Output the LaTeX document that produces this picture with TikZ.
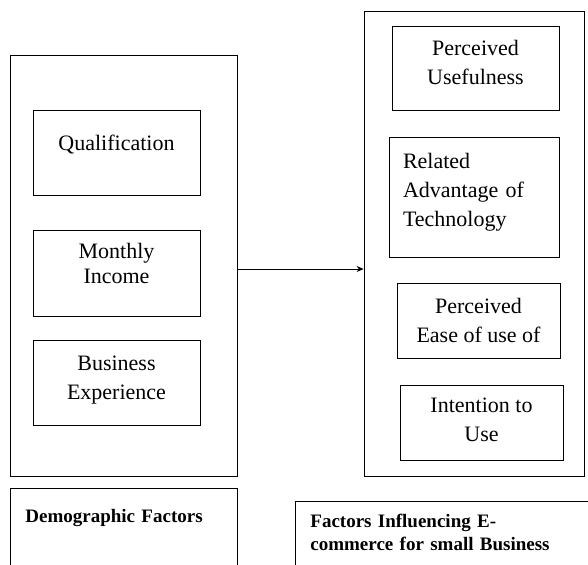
\documentclass[tikz,border=0pt]{standalone}
\usepackage{fontspec}
\setmainfont{Liberation Serif}
\usetikzlibrary{arrows.meta}
\begin{document}
\begin{tikzpicture}[x=1pt, y=-1pt,
    panel/.style={draw, line width=0.8pt, inner sep=0pt},
    factor/.style={panel, align=center, font=\fontsize{22}{29}\selectfont},
    caption/.style={panel, anchor=north west, align=left, inner xsep=15pt,
        text depth=90pt, font=\bfseries\fontsize{19}{23}\selectfont}]
\useasboundingbox (0,0) rectangle (588,564);
\clip (0,0) rectangle (588,564);

% Demographic factors (left panel)
\node[panel, minimum width=227pt, minimum height=421pt] (demo) at (123.5,265.5) {};
\node[factor, minimum width=167pt, minimum height=85pt, text depth=20pt] (qual) at (116.5,152.5) {Qualification};
\node[factor, minimum width=167pt, minimum height=86pt, text depth=20pt, font=\fontsize{22}{25}\selectfont]
    (income) at (116.5,273) {Monthly\\Income};
\node[factor, minimum width=167pt, minimum height=85pt, text depth=9pt] (exper) at (116.5,382.5) {Business\\Experience};

% Factors influencing e-commerce (right panel)
\node[panel, minimum width=220pt, minimum height=465pt] (infl) at (474,243.5) {};
\node[factor, minimum width=167pt, minimum height=84pt, text depth=12pt] (useful) at (475.5,68) {Perceived\\Usefulness};
\node[factor, minimum width=170pt, minimum height=120pt, align=left, text width=142pt, text depth=73pt]
    (advant) at (474,197) {Related\\Advantage of\\Technology};
\node[factor, minimum width=163pt, minimum height=75pt] (ease) at (478.5,320.5) {Perceived\\Ease of use of};
\node[factor, minimum width=163pt, minimum height=75pt, text depth=5pt] (intent) at (481.5,422.5) {Intention to\\Use};

% Link between the panels
\coordinate (link) at (300,269);
\draw[-{Stealth[length=7pt, width=6pt]}, line width=0.8pt] (demo.east |- link) -- (infl.west |- link);

% Captions
\node[caption, text width=197pt] (demolabel) at (10,488) [inner ysep=21pt] {Demographic Factors};
\node[caption, text width=300pt] (infllabel) at (295,501) [inner ysep=13pt]
    {Factors Influencing E-\\commerce for small Business};
\end{tikzpicture}
\end{document}
